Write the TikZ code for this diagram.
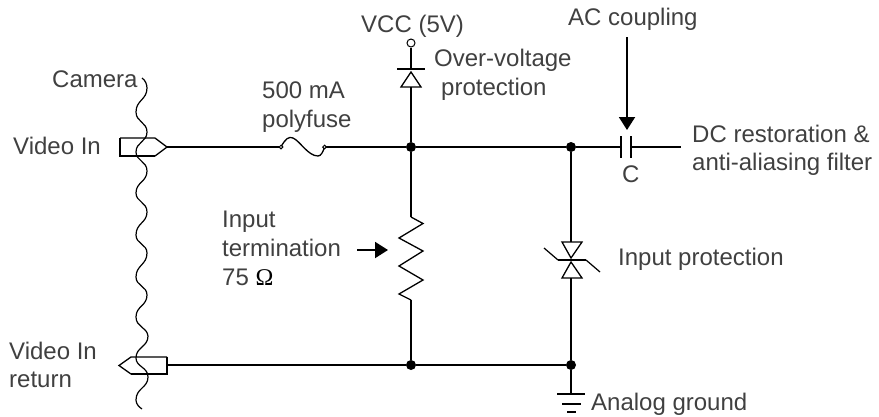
\documentclass[tikz,border=0pt]{standalone}
\usepackage{fontspec}
\setmainfont{Liberation Sans}
\newfontfamily\omegafont{Liberation Serif}
\usetikzlibrary{arrows.meta}
\definecolor{txt}{HTML}{404040}
\tikzset{
  wire/.style={draw=black,line width=1.9pt},
  thin wire/.style={draw=black,line width=1.2pt},
  sym/.style={draw=black,line width=1.3pt,line join=miter},
  dotj/.style={circle,fill=black,inner sep=0pt,minimum size=10pt},
  label/.style={anchor=base west,inner sep=0pt,text=txt,font=\fontsize{24}{28}\selectfont},
  pointer/.style={draw=black,line width=1.9pt,-{Triangle[length=13pt,width=16pt]}},
}
\begin{document}
\begin{tikzpicture}[x=1pt,y=-1pt]
\useasboundingbox (0,0) rectangle (879,416);
% named points
\coordinate (inEnd) at (167,147);
\coordinate (fuseL) at (281,147);
\coordinate (fuseR) at (324.5,147);
\node[dotj] (j1) at (411,147) {};
\node[dotj] (j2) at (571,147) {};
\node[dotj] (j3) at (411,365) {};
\node[dotj] (j4) at (571,365) {};
\coordinate (capL) at (621,147);
\coordinate (capR) at (631,147);
\coordinate (outEnd) at (681,147);
\coordinate (retEnd) at (167,365);
\node[draw,circle,line width=1pt,inner sep=0pt,minimum size=8pt] (vcc) at (411,43) {};
\coordinate (dvTop) at (411,69);
\coordinate (dvBase) at (411,87);
\coordinate (rTop) at (411,217);
\coordinate (rBot) at (411,300);
\coordinate (tvTop) at (571,242);
\coordinate (tvBot) at (571,278);
\coordinate (gnd) at (571,394);
% wires
\draw[wire] (inEnd) -- (fuseL);
\draw[wire] (fuseR) -- (j1) -- (j2) -- (capL);
\draw[wire] (capR) -- (outEnd);
\draw[wire] (retEnd) -- (j3) -- (j4);
\draw[wire] (vcc) -- (dvTop);
\draw[wire] (dvBase) -- (j1);
\draw[wire] (j1) -- (rTop);
\draw[wire] (rBot) -- (j3);
\draw[wire] (j2) -- (tvTop);
\draw[wire] (tvBot) -- (j4);
\draw[wire] (j4) -- (gnd);
% connectors
\draw[wire,line join=miter] (120,138)--(120,156)--(155,156);
\draw[sym] (155,156)--(167,147)--(155,138)--(120,138);
\draw[wire,line join=miter] (131,374)--(167,374)--(167,357);
\draw[sym] (167,357)--(131,357)--(119,365.5)--(131,374);
% fuse
\draw[sym] (fuseL) .. controls (285,139) and (289,136) .. (293,138) .. controls (300,141) and (308,156) .. (318,156) .. controls (321,156) and (323,152) .. (fuseR);
\draw[line width=1pt,fill=white] (fuseL) circle (1.8);
\draw[line width=1pt,fill=white] (fuseR) circle (1.8);
% over-voltage diode
\draw[wire] (397,69) -- (425,69);
\draw[sym,line join=miter] (411,72)--(401,87)--(421,87)--cycle;
% resistor
\draw[sym,line join=miter] (rTop)--(423,223.5)--(399,238)--(423,251)--(399,266)--(423,280)--(399,294)--(rBot);
% capacitor
\draw[wire] (621,136)--(621,158);
\draw[wire] (631,136)--(631,158);
% TVS
\draw[sym] (562,242)--(582,242)--(571,258)--cycle;
\draw[sym] (562,278)--(582,278)--(571,262)--cycle;
\draw[wire] (558,260)--(586,260);
\draw[thin wire] (544,248)--(558,260);
\draw[thin wire] (586,260)--(600,272);
% ground
\draw[wire] (557,394)--(585,394);
\draw[wire] (562,404)--(581,404);
\draw[wire] (567,412)--(576,412);
% cable
\draw[line width=1.2pt]
 (142,78) .. controls (145,80) and (147,84) .. (147,88)
 .. controls (147,100) and (136,100) .. (136,112)
 .. controls (136,122) and (147,122) .. (147,132)
 .. controls (147,142) and (136,142) .. (136,152)
 .. controls (136,161) and (147,161) .. (147,171)
 .. controls (147,182) and (136,182) .. (136,193)
 .. controls (136,202) and (147,202) .. (147,212)
 .. controls (147,223) and (136,223) .. (136,235)
 .. controls (136,244) and (147,244) .. (147,253)
 .. controls (147,265) and (136,265) .. (136,277)
 .. controls (136,286) and (147,286) .. (147,295)
 .. controls (147,306) and (136,306) .. (136,317)
 .. controls (136,327) and (147,327) .. (148,336)
 .. controls (148,347) and (136,347) .. (136,358)
 .. controls (136,367) and (148,367) .. (148,377)
 .. controls (148,388) and (136,388) .. (136,400)
 .. controls (136,404) and (139,407) .. (142,409);
% pointers
\coordinate (arrR0) at (357,250);
\coordinate (arrR1) at (388,250);
\draw[pointer] (arrR0) -- (arrR1);
\coordinate (arrC0) at (627,37);
\coordinate (arrC1) at (627,130);
\draw[pointer] (arrC0) -- (arrC1);
% labels
\node[label] (t1) at (361,32) {VCC (5V)};
\node[label] (t2) at (568,25) {AC coupling};
\node[label] (t3) at (434,66) {Over-voltage};
\node[label] (t4) at (441,95) {protection};
\node[label] (t5) at (262,98) {500 mA};
\node[label] (t6) at (262,127) {polyfuse};
\node[label] (t7) at (52,87) {Camera};
\node[label] (t8) at (13,154) {Video In};
\node[label] (t9) at (9,359) {Video In};
\node[label] (t10) at (9,387) {return};
\node[label] (t11) at (222,227) {Input};
\node[label] (t12) at (222,256) {termination};
\node[label] (t13) at (222,285) {75 {\omegafont\color{black}Ω}};
\node[label] (t14) at (692,142) {DC restoration \&};
\node[label] (t15) at (692,170) {anti-aliasing filter};
\node[label] (t16) at (622,182) {C};
\node[label] (t17) at (618,265) {Input protection};
\node[label] (t18) at (591,410) {Analog ground};
\end{tikzpicture}
\end{document}
